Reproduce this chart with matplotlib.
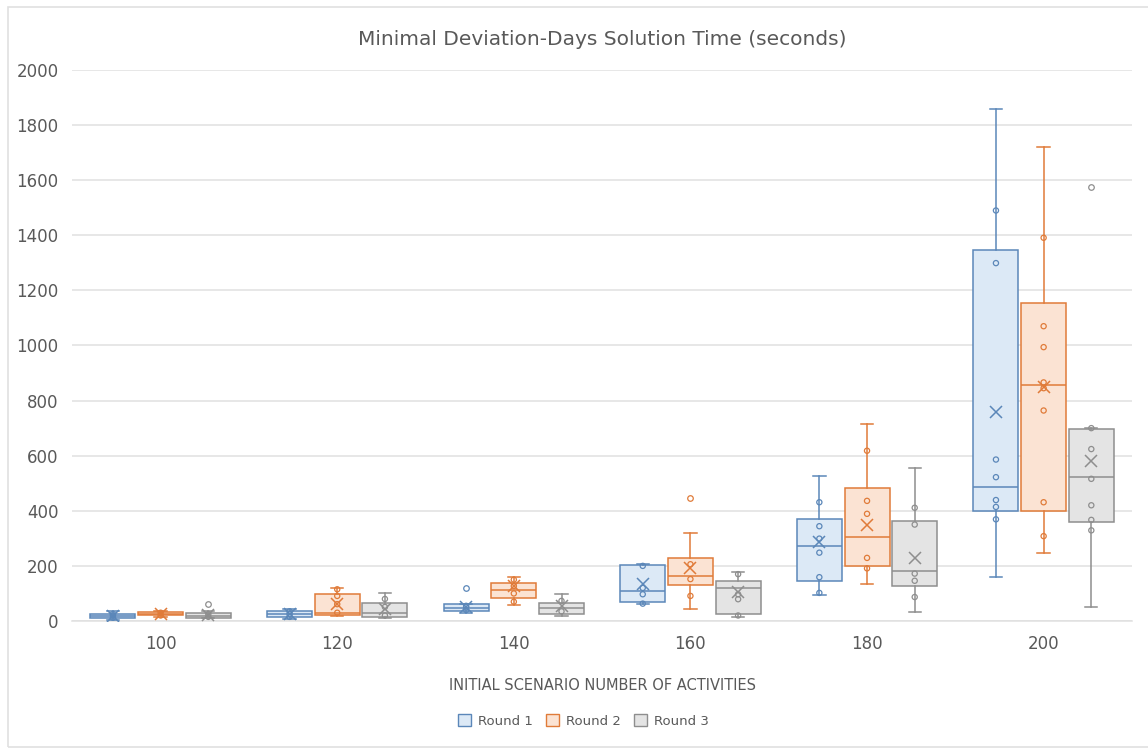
import numpy as np
import matplotlib.pyplot as plt
from matplotlib.patches import Patch, Rectangle

categories = ['100', '120', '140', '160', '180', '200']
rounds = ['Round 1', 'Round 2', 'Round 3']

# box summaries per category: [whisker low, q1, median, q3, whisker high]
round1_box = [[5, 10, 18, 27, 36], [8, 15, 27, 38, 45], [30, 36, 48, 60, 62],
              [63, 70, 109, 204, 206], [95, 146, 274, 372, 525], [159, 401, 487, 1348, 1857]]
round2_box = [[15, 20, 27, 32, 38], [18, 22, 30, 97, 119], [58, 85, 112, 139, 160],
              [42, 131, 164, 228, 321], [134, 200, 306, 482, 716], [248, 399, 856, 1153, 1720]]
round3_box = [[10, 12, 18, 28, 35], [12, 15, 30, 67, 103], [18, 24, 46, 67, 99],
              [15, 24, 121, 145, 176], [32, 127, 181, 363, 554], [51, 359, 522, 698, 700]]

round1_mean = [18, 27, 50, 133, 287, 758]
round2_mean = [27, 60, 127, 194, 350, 850]
round3_mean = [22, 45, 55, 105, 229, 580]

round1_points = [[12, 20, 25], [15, 25, 35], [40, 50, 55], [63, 97, 120, 200],
                 [102, 159, 248, 299, 344, 431], [369, 414, 439, 522, 586, 1299, 1490]]
round2_points = [[20, 30], [30, 61, 91, 115], [70, 100, 127, 150], [91, 152, 206],
                 [191, 229, 389, 436, 618], [308, 431, 764, 845, 866, 994, 1070, 1391]]
round3_points = [[15, 25], [20, 51, 80], [35, 73], [20, 79, 97, 170],
                 [87, 146, 172, 350, 411], [329, 367, 420, 516, 624, 700]]

round1_outliers = [[], [], [121], [], [], []]
round2_outliers = [[], [], [], [448], [], []]
round3_outliers = [[61], [], [], [], [], [1577]]

edge_colors = ['#5B87B9', '#E07B39', '#8E8E8E']
fill_colors = ['#DCE9F6', '#FBE3D3', '#E4E4E4']
text_color = '#595959'
grid_color = '#E0E0E0'

fig = plt.figure(figsize=(11.48, 7.55), dpi=100)
ax = fig.add_axes([0.063, 0.1775, 0.923, 0.7298])

all_box = [round1_box, round2_box, round3_box]
all_mean = [round1_mean, round2_mean, round3_mean]
all_points = [round1_points, round2_points, round3_points]
all_out = [round1_outliers, round2_outliers, round3_outliers]
offsets = [-0.27, 0.0, 0.27]
width = 0.255

for r in range(3):
    stats = []
    for i in range(len(categories)):
        lo, q1, med, q3, hi = all_box[r][i]
        stats.append({'whislo': lo, 'q1': q1, 'med': med, 'q3': q3, 'whishi': hi,
                      'mean': all_mean[r][i], 'fliers': all_out[r][i]})
    pos = np.arange(len(categories)) + 0.5 + offsets[r]
    ec = edge_colors[r]
    ax.bxp(stats, positions=pos, widths=width, patch_artist=True, showmeans=True,
           capwidths=0.07, manage_ticks=False,
           boxprops=dict(facecolor=fill_colors[r], edgecolor=ec, linewidth=1.1),
           medianprops=dict(color=ec, linewidth=1.1),
           whiskerprops=dict(color=ec, linewidth=1.1),
           capprops=dict(color=ec, linewidth=1.1),
           meanprops=dict(marker='x', markeredgecolor=ec, markersize=8, markeredgewidth=1.1),
           flierprops=dict(marker='o', markerfacecolor='none', markeredgecolor=ec,
                           markersize=4, markeredgewidth=0.9),
           zorder=3)
    for i, pts in enumerate(all_points[r]):
        ax.scatter([pos[i]] * len(pts), pts, s=14, facecolors='none', edgecolors=ec,
                   linewidths=0.9, zorder=4)

ax.set_xlim(0, len(categories))
ax.set_ylim(0, 2000)
ax.set_yticks(range(0, 2001, 200))
ax.set_xticks(np.arange(len(categories)) + 0.5)
ax.set_xticklabels(categories)
ax.tick_params(axis='both', length=0, colors=text_color, labelsize=12, pad=10)
ax.yaxis.grid(True, color=grid_color, linewidth=1.1)
ax.set_axisbelow(True)
for s in ['top', 'right', 'left']:
    ax.spines[s].set_visible(False)
ax.spines['bottom'].set_color(grid_color)
ax.spines['bottom'].set_linewidth(1.1)

ax.set_title('Minimal Deviation-Days Solution Time (seconds)', color=text_color,
             fontsize=14.5, pad=18)
ax.set_xlabel('INITIAL SCENARIO NUMBER OF ACTIVITIES', color=text_color, fontsize=10.5,
              labelpad=18)

handles = [Patch(facecolor=fill_colors[k], edgecolor=edge_colors[k], label=rounds[k])
           for k in range(3)]
fig.legend(handles=handles, loc='center', bbox_to_anchor=(0.508, 0.045), ncol=3,
           frameon=False, fontsize=9.5, labelcolor=text_color, handlelength=1.0,
           handleheight=1.0, columnspacing=1.0, handletextpad=0.5)

fig.patches.append(Rectangle((0.007, 0.011), 1.0, 0.98, transform=fig.transFigure,
                             fill=False, edgecolor=grid_color, linewidth=1.2))

fig.savefig('out.png', dpi=100)
